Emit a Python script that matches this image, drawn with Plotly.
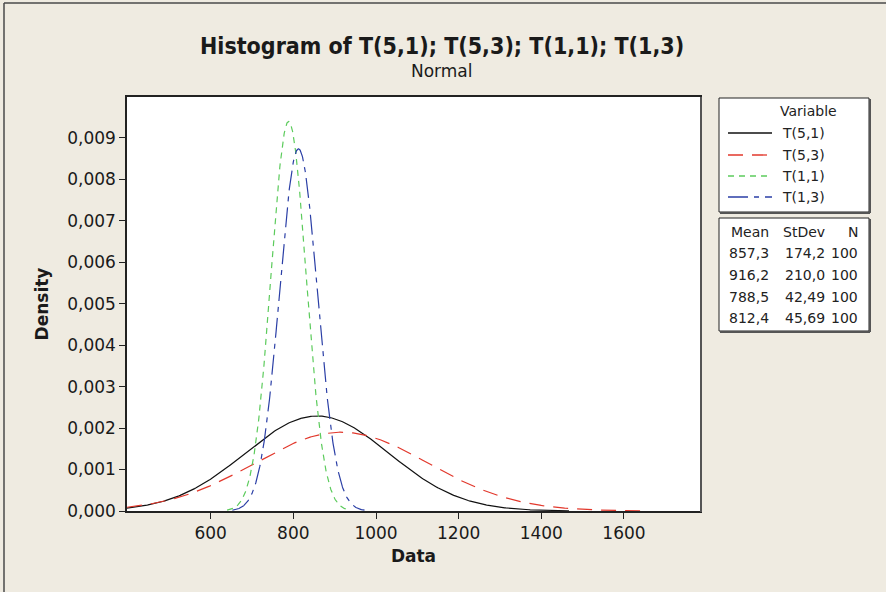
import numpy as np
import plotly.graph_objects as go

# ---- data ----
variables = ["T(5,1)", "T(5,3)", "T(1,1)", "T(1,3)"]
means = [857.3, 916.2, 788.5, 812.4]
stdevs = [174.2, 210.0, 42.49, 45.69]
counts = [100, 100, 100, 100]
mean_labels = ["857,3", "916,2", "788,5", "812,4"]
stdev_labels = ["174,2", "210,0", "42,49", "45,69"]
x_tickvals = [600, 800, 1000, 1200, 1400, 1600]
x_ticktext = ["600", "800", "1000", "1200", "1400", "1600"]
y_tickvals = [0.000, 0.001, 0.002, 0.003, 0.004, 0.005, 0.006, 0.007, 0.008, 0.009]
y_ticktext = ["0,000", "0,001", "0,002", "0,003", "0,004", "0,005", "0,006", "0,007", "0,008", "0,009"]

# ---- styles ----
colors = ["#111111", "#E2382C", "#5CCB5C", "#2B3FA6"]
dashes = ["solid", "15px,9px", "6px,5px", "20px,6px,5px,6px"]
FONT = "DejaVu Sans"
BG = "#EFEBE1"

X_RANGE = [397.5, 1784]
Y_RANGE = [0, 0.00998]

fig = go.Figure()
for name, m, s, c, d in zip(variables, means, stdevs, colors, dashes):
    lo = max(m - 3.5 * s, X_RANGE[0])
    hi = m + 3.5 * s
    x = np.linspace(lo, hi, 400)
    y = np.exp(-0.5 * ((x - m) / s) ** 2) / (s * np.sqrt(2 * np.pi))
    fig.add_trace(go.Scatter(x=x, y=y, mode="lines", name=name,
                             line=dict(color=c, width=1.2, dash=d),
                             showlegend=False, hoverinfo="skip"))

# plot area in pixels
L, T, R, B = 127, 97, 700, 511
W, H = R - L, B - T


def px(xp):
    return (xp - L) / W


def py(yp):
    return (B - yp) / H


shapes = []
ann = []

# outer frame (left & top edges)
shapes.append(dict(type="line", xref="paper", yref="paper", x0=px(4), x1=px(4), y0=py(3), y1=py(592),
                   line=dict(color="#4a4a4a", width=1.5)))
shapes.append(dict(type="line", xref="paper", yref="paper", x0=px(4), x1=px(886), y0=py(3), y1=py(3),
                   line=dict(color="#4a4a4a", width=1.5)))
# plot shadow (right)
shapes.append(dict(type="line", xref="paper", yref="paper", x0=px(R + 1), x1=px(R + 1), y0=py(T), y1=py(B + 1),
                   line=dict(color="#555555", width=2)))

# legend boxes
for (x0, y0, x1, y1) in [(719, 98, 869, 212), (719, 218, 869, 331)]:
    shapes.append(dict(type="rect", xref="paper", yref="paper", x0=px(x0), x1=px(x1), y0=py(y0), y1=py(y1),
                       line=dict(color="#222222", width=1), fillcolor="white", layer="below"))
    shapes.append(dict(type="line", xref="paper", yref="paper", x0=px(x1 + 1), x1=px(x1 + 1), y0=py(y0 + 1), y1=py(y1 + 1),
                       line=dict(color="#555555", width=2)))
    shapes.append(dict(type="line", xref="paper", yref="paper", x0=px(x0 + 1), x1=px(x1 + 1), y0=py(y1 + 1), y1=py(y1 + 1),
                       line=dict(color="#555555", width=2)))

LEG_FS = 14
ann.append(dict(text="Variable", xref="paper", yref="paper", x=px(808), y=py(111), showarrow=False,
                xanchor="center", yanchor="middle", font=dict(family=FONT, size=LEG_FS, color="#222")))
row_y = [133, 155, 176, 197]
for name, c, d, ry in zip(variables, colors, dashes, row_y):
    shapes.append(dict(type="line", xref="paper", yref="paper", x0=px(728), x1=px(772), y0=py(ry), y1=py(ry),
                       line=dict(color=c, width=1.3, dash=d)))
    ann.append(dict(text=name, xref="paper", yref="paper", x=px(780), y=py(ry), showarrow=False,
                    xanchor="left", yanchor="middle", font=dict(family=FONT, size=LEG_FS, color="#222")))

col_right = [771, 827, 860]
hdr = ["Mean", "StDev", "N"]
for h, cx in zip(hdr, col_right):
    ann.append(dict(text=h, xref="paper", yref="paper", x=px(cx), y=py(232), showarrow=False,
                    xanchor="right", yanchor="middle", font=dict(family=FONT, size=LEG_FS, color="#222")))
stat_y = [253, 275, 297, 318]
for ml, sl, n, ry in zip(mean_labels, stdev_labels, counts, stat_y):
    for t, cx in zip([ml, sl, str(n)], col_right):
        ann.append(dict(text=t, xref="paper", yref="paper", x=px(cx), y=py(ry), showarrow=False,
                        xanchor="right", yanchor="middle", font=dict(family=FONT, size=LEG_FS, color="#222")))

# titles
ann.append(dict(text="<b>Histogram of T(5,1); T(5,3); T(1,1); T(1,3)</b>", xref="paper", yref="paper",
                x=px(442), y=py(46), showarrow=False, xanchor="center", yanchor="middle",
                font=dict(family="DejaVu Sans Condensed", size=23, color="#1a1a1a")))
ann.append(dict(text="Normal", xref="paper", yref="paper", x=px(442), y=py(71), showarrow=False,
                xanchor="center", yanchor="middle", font=dict(family=FONT, size=17, color="#1a1a1a")))

fig.update_layout(
    width=886, height=592,
    margin=dict(l=L, r=886 - R, t=T, b=592 - B, pad=0),
    paper_bgcolor=BG, plot_bgcolor="white",
    shapes=shapes, annotations=ann,
    showlegend=False,
    font=dict(family=FONT, size=16, color="#1a1a1a"),
)
fig.update_xaxes(range=X_RANGE, tickvals=x_tickvals, ticktext=x_ticktext,
                 showgrid=False, zeroline=False, showline=True, linecolor="#222", linewidth=1.5,
                 mirror=True, ticks="outside", ticklen=6, tickcolor="#222",
                 tickfont=dict(family=FONT, size=17, color="#1a1a1a"),
                 title=dict(text="<b>Data</b>", font=dict(family=FONT, size=17, color="#1a1a1a"), standoff=8))
fig.update_yaxes(range=Y_RANGE, tickvals=y_tickvals, ticktext=y_ticktext,
                 showgrid=False, zeroline=False, showline=True, linecolor="#222", linewidth=1.5,
                 mirror=True, ticks="outside", ticklen=6, tickcolor="#222",
                 tickfont=dict(family=FONT, size=17, color="#1a1a1a"),
                 title=dict(text="<b>Density</b>", font=dict(family=FONT, size=17, color="#1a1a1a"), standoff=14))

fig.write_html("out.html",
               config={"displayModeBar": False},
               post_script="document.body.style.margin='0';document.body.style.padding='0';"
                           "document.body.style.background='" + BG + "';"
                           "document.documentElement.style.overflow='hidden';")
